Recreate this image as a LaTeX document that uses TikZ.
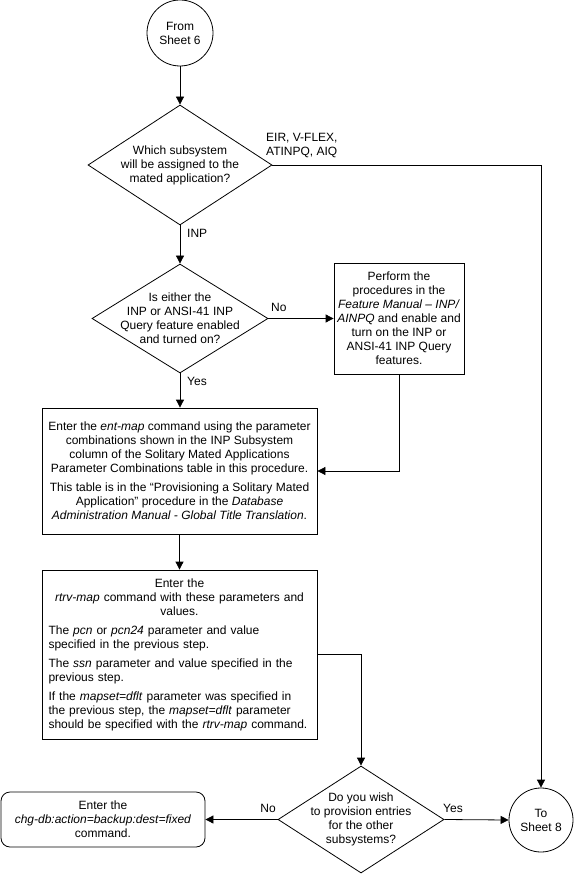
\documentclass[tikz,border=0pt]{standalone}
\usepackage{fontspec}
\setmainfont{Liberation Sans}
\usetikzlibrary{shapes.geometric,arrows.meta}
\begin{document}
\begin{tikzpicture}[x=1pt,y=-1pt, font=\fontsize{12}{14}\selectfont,
  line/.style={draw=black, line width=0.8pt},
  arr/.style={line, -{Triangle[length=8pt,width=8pt]}},
  term/.style={circle, draw, line width=0.8pt, minimum size=66pt, inner sep=0pt, align=center},
  dec/.style={diamond, draw, line width=0.8pt, inner sep=0pt},
  proc/.style={rectangle, draw, line width=0.8pt, inner sep=0pt, align=center},
  dtext/.style={inner sep=0pt, align=center},
  lbl/.style={inner sep=0pt, align=left}]
\useasboundingbox (0,0) rectangle (575,874);

% terminals
\node[term] (from6) at (180,33) {From\\Sheet 6};
\node[term, minimum size=64pt] (to8) at (541,820) {To\\Sheet 8};

% decisions
\node[dec, minimum width=184pt, minimum height=120pt] (d1) at (180,165) {};
\node[dtext] (d1t) at (180,165) {Which subsystem\\will be assigned to the\\mated application?};

\node[dec, minimum width=176pt, minimum height=109pt] (d2) at (180,318.5) {};
\node[dtext] (d2t) at (180,318.5) {Is either the\\INP or ANSI-41 INP\\Query feature enabled\\and turned on?};

\node[dec, minimum width=166pt, minimum height=107pt] (d3) at (361,819.5) {};
\node[dtext] (d3t) at (361,819.5) {Do you wish\\to provision entries\\for the other\\subsystems?};

% process boxes
\node[proc, minimum width=130pt, minimum height=111pt] (b2) at (399,318.5)
  {Perform the\\procedures in the\\\textit{Feature Manual – INP/}\\\textit{AINPQ} and enable and\\turn on the INP or\\ANSI-41 INP Query\\features.};

\node[proc, minimum width=275pt, minimum height=126pt] (b3) at (179.5,471)
  {Enter the \textit{ent-map} command using the parameter\\combinations shown in the INP Subsystem\\column of the Solitary Mated Applications\\Parameter Combinations table in this procedure.\\[5pt]This table is in the “Provisioning a Solitary Mated\\Application" procedure in the \textit{Database}\\\textit{Administration Manual - Global Title Translation}.};

\node[proc, align=left, minimum width=275pt, minimum height=169pt, text width=262pt, inner xsep=6.5pt] (b4) at (179.5,654.5)
  {\hyphenpenalty=10000\exhyphenpenalty=10000%
   {\centering Enter the\\\textit{rtrv-map} command with these parameters and\\values.\par}\vspace{5pt}%
   The \textit{pcn} or \textit{pcn24} parameter and value\\specified in the previous step.\par\vspace{5pt}%
   The \textit{ssn} parameter and value specified in the\\previous step.\par\vspace{5pt}%
   If the \textit{mapset=dflt} parameter was specified in\\the previous step, the \textit{mapset=dflt} parameter\\should be specified with the \textit{rtrv-map} command.};

\node[proc, rounded corners=9pt, minimum width=204pt, minimum height=55pt] (b5) at (103,819.5)
  {Enter the\\\textit{chg-db:action=backup:dest=fixed}\\command.};

% labels
\node[lbl, anchor=west] (leir) at (266,146) {EIR, V-FLEX,\\ATINPQ, AIQ};
\node[lbl, anchor=west] (linp) at (187,233) {INP};
\node[lbl, anchor=west] (lno1) at (271,307) {No};
\node[lbl, anchor=west] (lyes1) at (187,381) {Yes};
\node[lbl, anchor=east] (lno2) at (276,808) {No};
\node[lbl, anchor=west] (lyes2) at (443,808) {Yes};

% connectors
\draw[arr] (from6) -- (d1);
\draw[arr] (d1.east) -- (d1.east -| to8) -- (to8.north);
\draw[arr] (d1) -- (d2);
\draw[arr] (d2.south) -- (d2.south |- b3.north);
\draw[arr] (d2.east) -- (d2.east -| b2.west);
\draw[arr] (b2.south) -- (b2.south |- b3.east) -- (b3.east);
\draw[arr] (b3.south) -- (b3.south |- b4.north);
\draw[arr] (b4.east) -- (b4.east -| d3.north) -- (d3.north);
\draw[arr] (d3.east) -- (to8.west);
\draw[arr] (d3.west) -- (b5.east);
\end{tikzpicture}
\end{document}
